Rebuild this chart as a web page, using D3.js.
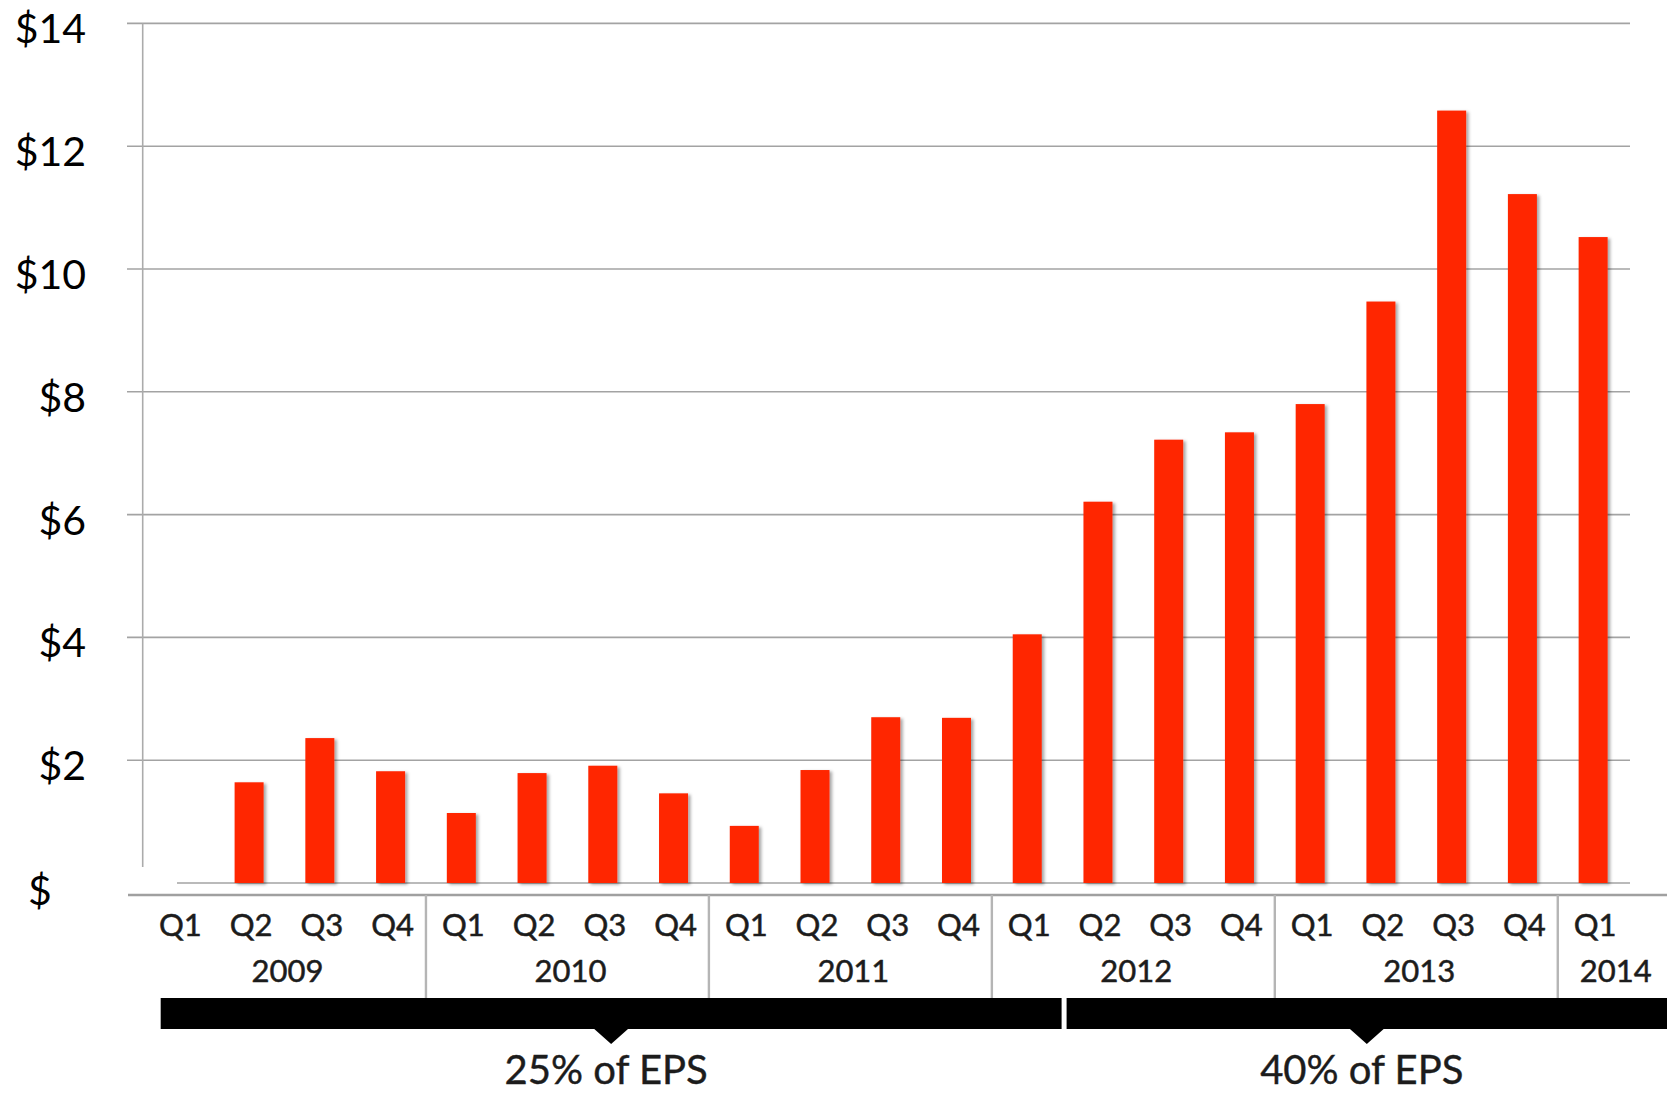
<!DOCTYPE html>
<html>
<head>
<meta charset="utf-8">
<script src="https://cdn.jsdelivr.net/npm/d3@7"></script>
<style>
  body { margin: 0; background: #fff; }
  svg { display: block; }
  text { font-family: Lato, "Open Sans", sans-serif; }
</style>
</head>
<body>
<svg id="chart" width="1667" height="1096"></svg>
<script>
// Quarterly dividend per share
const quarters = ["Q1","Q2","Q3","Q4","Q1","Q2","Q3","Q4","Q1","Q2","Q3","Q4",
                  "Q1","Q2","Q3","Q4","Q1","Q2","Q3","Q4","Q1"];
const years    = ["2009","2009","2009","2009","2010","2010","2010","2010",
                  "2011","2011","2011","2011","2012","2012","2012","2012",
                  "2013","2013","2013","2013","2014"];
const dividend = [null, 1.64, 2.36, 1.82, 1.14, 1.79, 1.91, 1.46, 0.93, 1.84, 2.70, 2.69,
                  4.05, 6.21, 7.22, 7.34, 7.80, 9.47, 12.58, 11.22, 10.52];
const yTicks      = [0, 2, 4, 6, 8, 10, 12, 14];
const yTickLabels = ["$", "$2", "$4", "$6", "$8", "$10", "$12", "$14"];
// Payout policy periods (first and last quarter index covered)
const policyLabels = ["25% of EPS", "40% of EPS"];
const policyFirst  = [0, 13];
const policyLast   = [12, 20];

const W = 1667, H = 1096;
const svg = d3.select("#chart");

const idx = d3.range(quarters.length);
const x = d3.scaleBand().domain(idx).range([143, 1628.5]).paddingInner(0.59).paddingOuter(0.295);
const step = x.step();
const y = d3.scaleLinear().domain([0, 14]).range([883, 23.4]);

const defs = svg.append("defs");
const f = defs.append("filter").attr("id", "barShadow")
  .attr("x", "-30%").attr("y", "-5%").attr("width", "170%").attr("height", "115%");
f.append("feDropShadow").attr("dx", 2.5).attr("dy", 1.5).attr("stdDeviation", 1.6)
  .attr("flood-color", "#000").attr("flood-opacity", 0.35);

// Horizontal gridlines
const gridColor = "#a3a3a3";
svg.append("g").selectAll("line").data(yTicks).join("line")
  .attr("x1", d => d === 0 ? 177 : 127)
  .attr("x2", 1630)
  .attr("y1", d => y(d)).attr("y2", d => y(d))
  .attr("stroke", gridColor).attr("stroke-width", 1.6);

// Value axis line
svg.append("line")
  .attr("x1", 142.7).attr("x2", 142.7)
  .attr("y1", y(14)).attr("y2", y(0) - 16)
  .attr("stroke", "#ababab").attr("stroke-width", 1.6);

// Value axis labels
const yAxis = svg.append("g").attr("transform", "translate(86,0)")
  .call(d3.axisLeft(y).tickValues(yTicks).tickSize(0).tickPadding(0)
        .tickFormat((d, i) => yTickLabels[i]));
yAxis.select(".domain").remove();
yAxis.selectAll("text")
  .attr("font-size", 41).attr("fill", "#000")
  .attr("font-family", "Lato, 'Open Sans', sans-serif")
  .attr("dy", 19.5);
yAxis.selectAll(".tick").filter(d => d === 0).select("text")
  .attr("text-anchor", "start").attr("x", -58).attr("dy", 21);

// Bars
svg.append("g").selectAll("rect")
  .data(idx.filter(i => dividend[i] != null)).join("rect")
  .attr("x", i => x(i))
  .attr("width", x.bandwidth())
  .attr("y", i => y(dividend[i]))
  .attr("height", i => y(0) - y(dividend[i]))
  .attr("fill", "#ff2500")
  .attr("filter", "url(#barShadow)");

// Category axis: quarter row and year groups
const catTop = 895, catBottom = 998;
const labelInk = "#1c1c1c";
svg.append("line")
  .attr("x1", 128).attr("x2", W)
  .attr("y1", catTop).attr("y2", catTop)
  .attr("stroke", "#a0a0a0").attr("stroke-width", 2.6);

svg.append("g").selectAll("text").data(idx).join("text")
  .attr("x", i => x(i) + x.bandwidth() / 2 + 2)
  .attr("y", 936)
  .attr("text-anchor", "middle")
  .attr("font-size", 31).attr("fill", labelInk)
  .attr("stroke", labelInk).attr("stroke-width", 0.5)
  .text(i => quarters[i]);

const yearGroups = d3.groups(idx, i => years[i]).map(([yr, list]) => {
  const x0 = x(list[0]) - x.paddingOuter() * step;
  const x1 = x0 + list.length * step;
  return { yr, x0, x1, n: list.length };
});

svg.append("g").selectAll("line").data(yearGroups.slice(1)).join("line")
  .attr("x1", d => d.x0).attr("x2", d => d.x0)
  .attr("y1", catTop).attr("y2", catBottom)
  .attr("stroke", "#b5b5b5").attr("stroke-width", 2.4);

svg.append("g").selectAll("text").data(yearGroups).join("text")
  .attr("x", d => d.n === 1 ? d.x0 + 22 : (d.x0 + d.x1) / 2 + 3)
  .attr("text-anchor", d => d.n === 1 ? "start" : "middle")
  .attr("y", 982)
  .attr("font-size", 31).attr("fill", labelInk)
  .attr("stroke", labelInk).attr("stroke-width", 0.5)
  .text(d => d.yr);

// Payout policy brackets
const policies = policyLabels.map((label, k) => {
  const a = x(policyFirst[k]) - x.paddingOuter() * step;
  const b = x(policyLast[k]) - x.paddingOuter() * step + step;
  const x0 = k === 0 ? a + step * 0.25 : a + 4;
  const x1 = k === policyLabels.length - 1 ? W : b - 1;
  return { label, x0, x1, mid: (x0 + x1) / 2 };
});
const barTop = 998, barBot = 1029, tipY = 1044, half = 18;
const pg = svg.append("g");
pg.selectAll("rect").data(policies).join("rect")
  .attr("x", d => d.x0).attr("width", d => d.x1 - d.x0)
  .attr("y", barTop).attr("height", barBot - barTop)
  .attr("fill", "#000");
pg.selectAll("path").data(policies).join("path")
  .attr("d", d => `M${d.mid - half},${barBot - 1}L${d.mid + half},${barBot - 1}L${d.mid},${tipY}Z`)
  .attr("fill", "#000");
pg.selectAll("text").data(policies).join("text")
  .attr("x", d => d.mid - 5)
  .attr("y", 1084)
  .attr("text-anchor", "middle")
  .attr("font-size", 40).attr("fill", labelInk)
  .attr("stroke", labelInk).attr("stroke-width", 0.4)
  .text(d => d.label);
</script>
</body>
</html>
